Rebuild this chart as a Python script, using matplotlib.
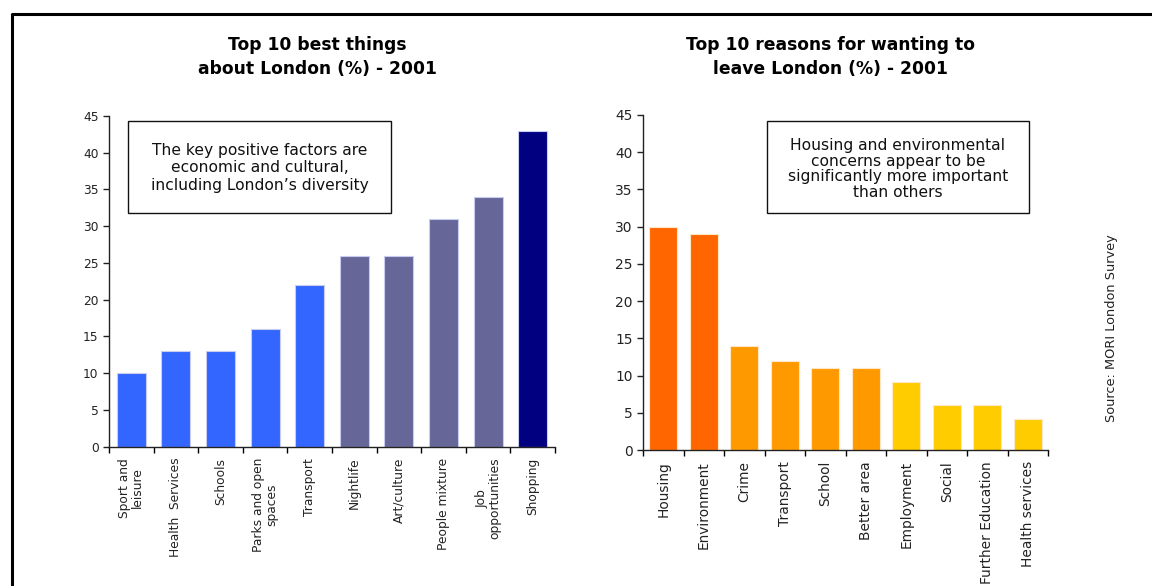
import numpy as np
import matplotlib
matplotlib.use("Agg")
import matplotlib.pyplot as plt
from matplotlib.patches import Rectangle

# data
best_labels = ['Sport and\nleisure', 'Health  Services', 'Schools', 'Parks and open\nspaces',
               'Transport', 'Nightlife', 'Art/culture', 'People mixture',
               'Job\nopportunities', 'Shopping']
best_values = [10, 13, 13, 16, 22, 26, 26, 31, 34, 43]
best_colors = ['#3366FF'] * 5 + ['#666699'] * 4 + ['#000080']

leave_labels = ['Housing', 'Environment', 'Crime', 'Transport', 'School', 'Better area',
                'Employment', 'Social', 'Further Education', 'Health services']
leave_values = [30, 29, 14, 12, 11, 11, 9.2, 6, 6, 4.2]
leave_colors = ['#FF6600'] * 2 + ['#FF9900'] * 4 + ['#FFCC00'] * 4

yticks = [0, 5, 10, 15, 20, 25, 30, 35, 40, 45]

plt.rcParams['font.family'] = ['DejaVu Sans']
W, H = 1152, 586
fig = plt.figure(figsize=(W / 100, H / 100), dpi=100)


def px(x0, y0, x1, y1):
    # pixel box -> figure fraction rect
    return [x0 / W, 1 - y1 / H, (x1 - x0) / W, (y1 - y0) / H]


def draw(ax, labels, values, colors, edge, width, fs):
    x = np.arange(len(values))
    ax.bar(x, values, width=width, color=colors, edgecolor=edge, linewidth=0.8)
    ax.set_xlim(-0.5, len(values) - 0.5)
    ax.set_ylim(0, 45)
    ax.set_yticks(yticks)
    ax.set_xticks(np.arange(len(values) + 1) - 0.5)
    ax.set_xticklabels([])
    ax.set_xticks(x, minor=True)
    ax.set_xticklabels(labels, minor=True, rotation=90, fontsize=fs,
                       ha='center', va='top', multialignment='center', color='#222222',
                       linespacing=1.0)
    ax.tick_params(axis='x', which='minor', length=0, pad=8)
    ax.tick_params(axis='x', which='major', length=4, width=1, direction='out')
    ax.tick_params(axis='y', length=4, width=1, direction='out', labelsize=fs, colors='#222222')
    for s in ['top', 'right']:
        ax.spines[s].set_visible(False)
    for s in ['left', 'bottom']:
        ax.spines[s].set_linewidth(1)
        ax.spines[s].set_color('#222222')


ax1 = fig.add_axes(px(109, 116, 555, 446.7))
draw(ax1, best_labels, best_values, best_colors, '#C8CCF0', 0.65, 8.8)

ax2 = fig.add_axes(px(643, 115, 1048, 450))
draw(ax2, leave_labels, leave_values, leave_colors, '#FFE8C8', 0.68, 9.9)

fig.text(317 / W, 1 - 57 / H, 'Top 10 best things\nabout London (%) - 2001', ha='center', va='center',
         fontsize=12.3, fontweight='bold', linespacing=1.45)
fig.text(830 / W, 1 - 57 / H, 'Top 10 reasons for wanting to\nleave London (%) - 2001', ha='center',
         va='center', fontsize=12.3, fontweight='bold', linespacing=1.45)

# annotation boxes
fig.add_artist(Rectangle((128 / W, 1 - 213 / H), (391 - 128) / W, (213 - 121) / H,
                         transform=fig.transFigure, fill=False, edgecolor='#111111', lw=1))
fig.text(259.5 / W, 1 - 168 / H, 'The key positive factors are\neconomic and cultural,\nincluding London\u2019s diversity',
         ha='center', va='center', fontsize=11.2, linespacing=1.2, color='#111111')
fig.add_artist(Rectangle((767 / W, 1 - 213 / H), (1029 - 767) / W, (213 - 121) / H,
                         transform=fig.transFigure, fill=False, edgecolor='#111111', lw=1))
fig.text(898 / W, 1 - 169 / H, 'Housing and environmental\nconcerns appear to be\nsignificantly more important\nthan others',
         ha='center', va='center', fontsize=11.2, linespacing=1.05, color='#111111')

fig.text(1111 / W, 1 - 328 / H, 'Source: MORI London Survey', rotation=90, ha='center', va='center',
         fontsize=9.3, color='#222222')

# outer frame (top and left edges)
fig.add_artist(plt.Line2D([12 / W, 12 / W, 1.0], [0.0, 1 - 14 / H, 1 - 14 / H],
                          transform=fig.transFigure, color='black', lw=2.2))

fig.savefig('out.png', dpi=100, facecolor='white')
